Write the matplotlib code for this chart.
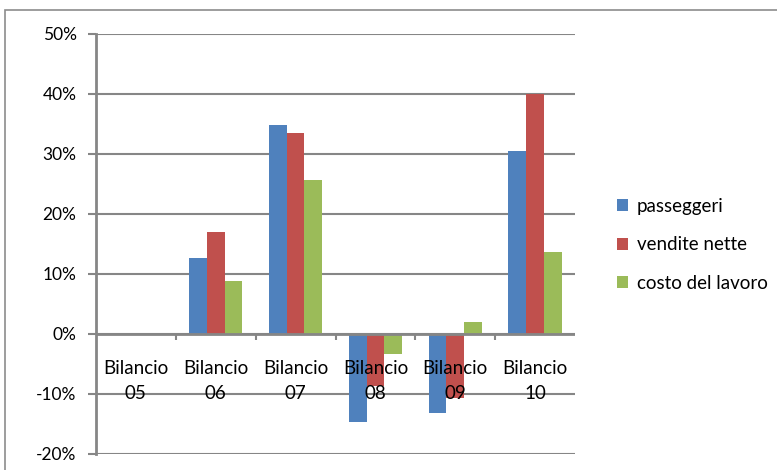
import matplotlib
matplotlib.use("Agg")
import matplotlib.pyplot as plt
import numpy as np
from matplotlib.patches import Rectangle
from matplotlib.ticker import FuncFormatter

CATEGORIES = ["Bilancio\n05", "Bilancio\n06", "Bilancio\n07", "Bilancio\n08", "Bilancio\n09", "Bilancio\n10"]
PASSEGGERI = [0.0, 12.6, 34.8, -14.7, -13.2, 30.5]
VENDITE = [0.0, 17.0, 33.5, -8.7, -10.7, 40.0]
COSTO = [0.0, 8.8, 25.7, -3.3, 2.0, 13.7]
SERIES_NAMES = ["passeggeri", "vendite nette", "costo del lavoro"]
COLORS = ["#4F81BD", "#C0504D", "#9BBB59"]
GRID = "#868686"

plt.rcParams["font.family"] = ["Lato", "DejaVu Sans"]

W, H = 777, 470
fig = plt.figure(figsize=(W / 100, H / 100), dpi=100)
ax = fig.add_axes([96 / W, 1 - 454 / H, (575 - 96) / W, (454 - 34) / H])

# outer chart frame
fig.patches.append(Rectangle((5 / W, -0.1), 1.2, 1 - 10 / H + 0.1, transform=fig.transFigure,
                             fill=False, edgecolor="#8c8c8c", linewidth=1.2))

x = np.arange(len(CATEGORIES))
width = 1 / 4.5
for k, (vals, name, col) in enumerate(zip([PASSEGGERI, VENDITE, COSTO], SERIES_NAMES, COLORS)):
    ax.bar(x + (k - 1) * width, vals, width, color=col, label=name, zorder=3)

ax.set_xlim(-0.5, len(CATEGORIES) - 0.5)
ax.set_ylim(-20, 50)
ax.set_yticks(range(-20, 51, 10))
ax.yaxis.set_major_formatter(FuncFormatter(lambda v, p: f"{int(v)}%"))
ax.tick_params(axis="y", length=6, width=1.5, color=GRID, labelsize=12.5, pad=8)
ax.grid(axis="y", color=GRID, linewidth=1.5, zorder=0)
ax.set_xticks([])

for side in ["top", "right", "bottom"]:
    ax.spines[side].set_visible(False)
ax.spines["left"].set_color(GRID)
ax.spines["left"].set_linewidth(2)

# category axis at 0 with tick marks at the boundaries
ax.axhline(0, color=GRID, linewidth=2, zorder=4)
ax.vlines(x[1:] - 0.5, -1, 0, color=GRID, linewidth=1.5, zorder=4)
for xi, lab in zip(x, CATEGORIES):
    ax.text(xi, -4.4, lab, ha="center", va="top", fontsize=13.5, linespacing=1.55, zorder=5)

fig.legend(loc="upper left", bbox_to_anchor=(600 / W, 1 - 181 / H), frameon=False,
           fontsize=13.5, handlelength=0.6, handleheight=0.6, handletextpad=0.45,
           labelspacing=1.15)

fig.savefig("out.png", dpi=100)
